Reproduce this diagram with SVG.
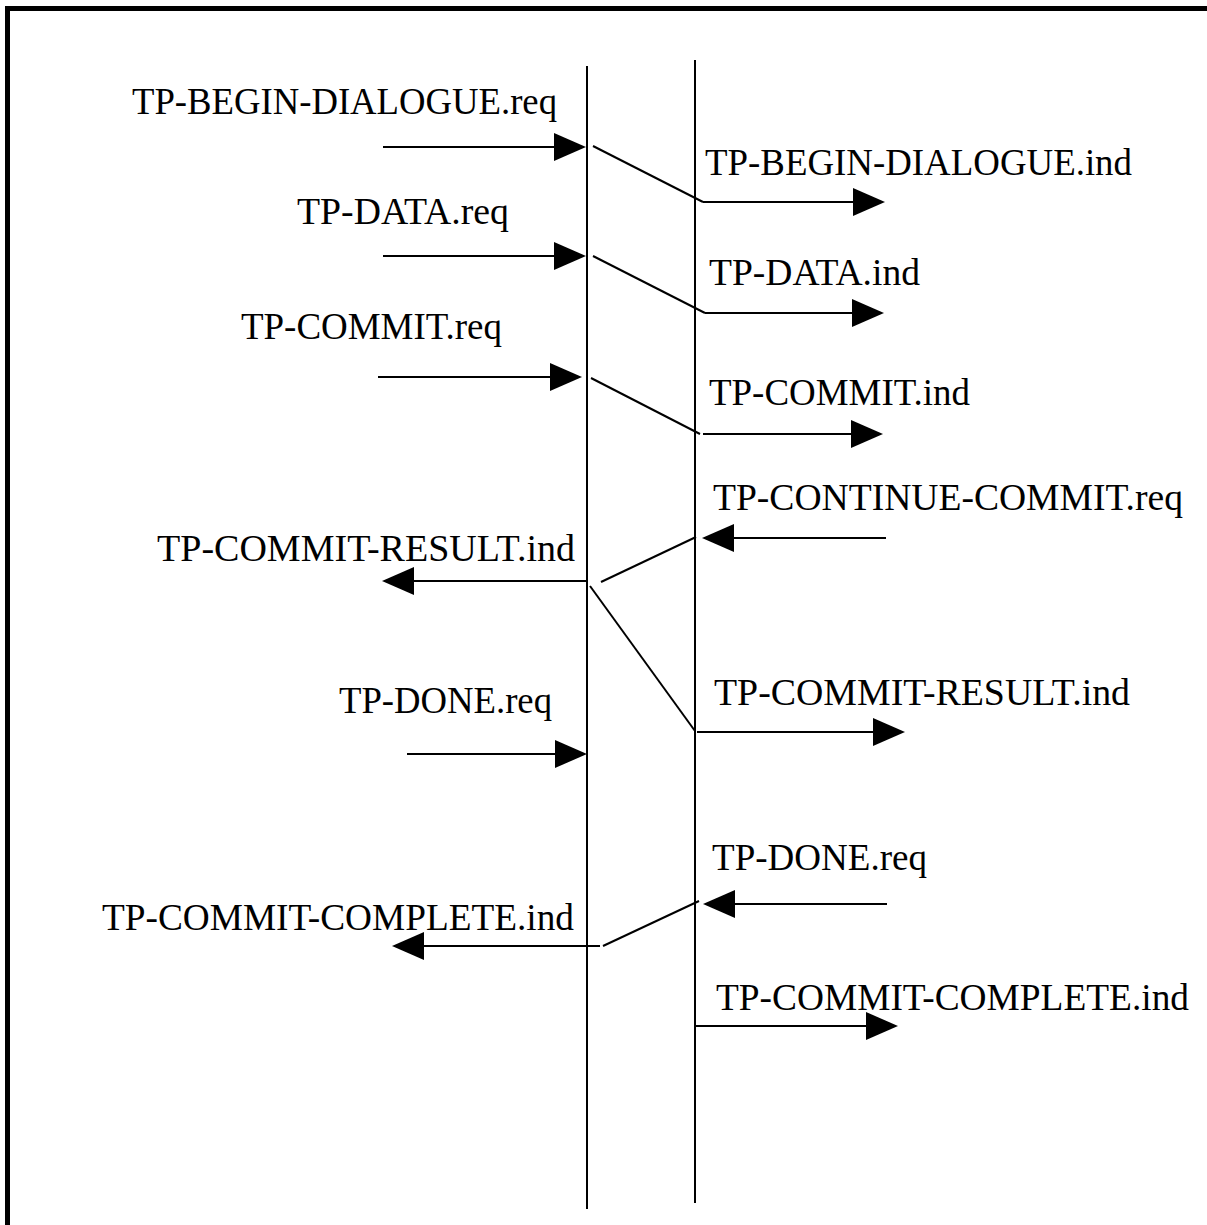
<svg xmlns="http://www.w3.org/2000/svg" width="1207" height="1225" viewBox="0 0 1207 1225">
  <style>
    .frame { fill: none; stroke: #000; stroke-width: 5; }
    .life { stroke: #000; stroke-width: 2; }
    .msg { stroke: #000; stroke-width: 2; fill: none; }
    .arr { marker-end: url(#head); }
    .lbl { font-family: "Liberation Serif", "Times New Roman", serif; font-size: 37px; fill: #000; }
  </style>
  <defs>
    <marker id="head" markerUnits="userSpaceOnUse" markerWidth="32" markerHeight="28" viewBox="0 0 32 28" refX="0" refY="14" orient="auto" overflow="visible">
      <path d="M0,0 L32,14 L0,28 z" fill="#000"/>
    </marker>
  </defs>

  <rect width="1207" height="1225" fill="#fff"/>
  <!-- outer frame, open at the right and bottom edges -->
  <rect class="frame" x="7.5" y="8.5" width="1300" height="1300"/>

  <!-- lifelines -->
  <g id="lifeline-a">
    <line class="life" x1="587" y1="66" x2="587" y2="1209"/>
  </g>
  <g id="lifeline-b">
    <line class="life" x1="695" y1="60" x2="695" y2="1203"/>
  </g>

  <!-- message arrows and transfer lines -->
  <g id="connectors">
    <line class="msg arr" x1="383" y1="147" x2="554" y2="147"/>
    <line class="msg" x1="593" y1="146" x2="703" y2="202"/>
    <line class="msg arr" x1="703" y1="202" x2="853" y2="202"/>

    <line class="msg arr" x1="383" y1="256" x2="554" y2="256"/>
    <line class="msg" x1="593" y1="256" x2="705" y2="313"/>
    <line class="msg arr" x1="705" y1="313" x2="852" y2="313"/>

    <line class="msg arr" x1="378" y1="377" x2="550" y2="377"/>
    <line class="msg" x1="591" y1="378" x2="700" y2="434"/>
    <line class="msg arr" x1="703" y1="434" x2="851" y2="434"/>

    <line class="msg arr" x1="886" y1="538" x2="734" y2="538"/>
    <line class="msg" x1="696" y1="537" x2="601" y2="582"/>
    <line class="msg arr" x1="587" y1="581" x2="414" y2="581"/>

    <line class="msg" x1="590" y1="586" x2="695" y2="731"/>
    <line class="msg arr" x1="697" y1="732" x2="873" y2="732"/>

    <line class="msg arr" x1="407" y1="754" x2="555" y2="754"/>

    <line class="msg arr" x1="887" y1="904" x2="735" y2="904"/>
    <line class="msg" x1="699" y1="901" x2="603" y2="946"/>
    <line class="msg arr" x1="600" y1="946" x2="424" y2="946"/>

    <line class="msg arr" x1="696" y1="1026" x2="866" y2="1026"/>
  </g>

  <!-- primitive labels -->
  <g id="labels">
    <text id="begin-req" class="lbl" x="132" y="114" textLength="425" lengthAdjust="spacingAndGlyphs">TP-BEGIN-DIALOGUE.req</text>
    <text id="begin-ind" class="lbl" x="705" y="175" textLength="427" lengthAdjust="spacingAndGlyphs">TP-BEGIN-DIALOGUE.ind</text>
    <text id="data-req" class="lbl" x="297" y="224" textLength="212" lengthAdjust="spacingAndGlyphs">TP-DATA.req</text>
    <text id="data-ind" class="lbl" x="709" y="285" textLength="211" lengthAdjust="spacingAndGlyphs">TP-DATA.ind</text>
    <text id="commit-req" class="lbl" x="241" y="339" textLength="261" lengthAdjust="spacingAndGlyphs">TP-COMMIT.req</text>
    <text id="commit-ind" class="lbl" x="709" y="405" textLength="261" lengthAdjust="spacingAndGlyphs">TP-COMMIT.ind</text>
    <text id="continue-req" class="lbl" x="713" y="510" textLength="470" lengthAdjust="spacingAndGlyphs">TP-CONTINUE-COMMIT.req</text>
    <text id="result-ind-a" class="lbl" x="157" y="561" textLength="418" lengthAdjust="spacingAndGlyphs">TP-COMMIT-RESULT.ind</text>
    <text id="done-req-a" class="lbl" x="339" y="713" textLength="213" lengthAdjust="spacingAndGlyphs">TP-DONE.req</text>
    <text id="result-ind-b" class="lbl" x="714" y="705" textLength="416" lengthAdjust="spacingAndGlyphs">TP-COMMIT-RESULT.ind</text>
    <text id="done-req-b" class="lbl" x="712" y="870" textLength="215" lengthAdjust="spacingAndGlyphs">TP-DONE.req</text>
    <text id="complete-ind-a" class="lbl" x="102" y="930" textLength="472" lengthAdjust="spacingAndGlyphs">TP-COMMIT-COMPLETE.ind</text>
    <text id="complete-ind-b" class="lbl" x="716" y="1010" textLength="473" lengthAdjust="spacingAndGlyphs">TP-COMMIT-COMPLETE.ind</text>
  </g>
</svg>
